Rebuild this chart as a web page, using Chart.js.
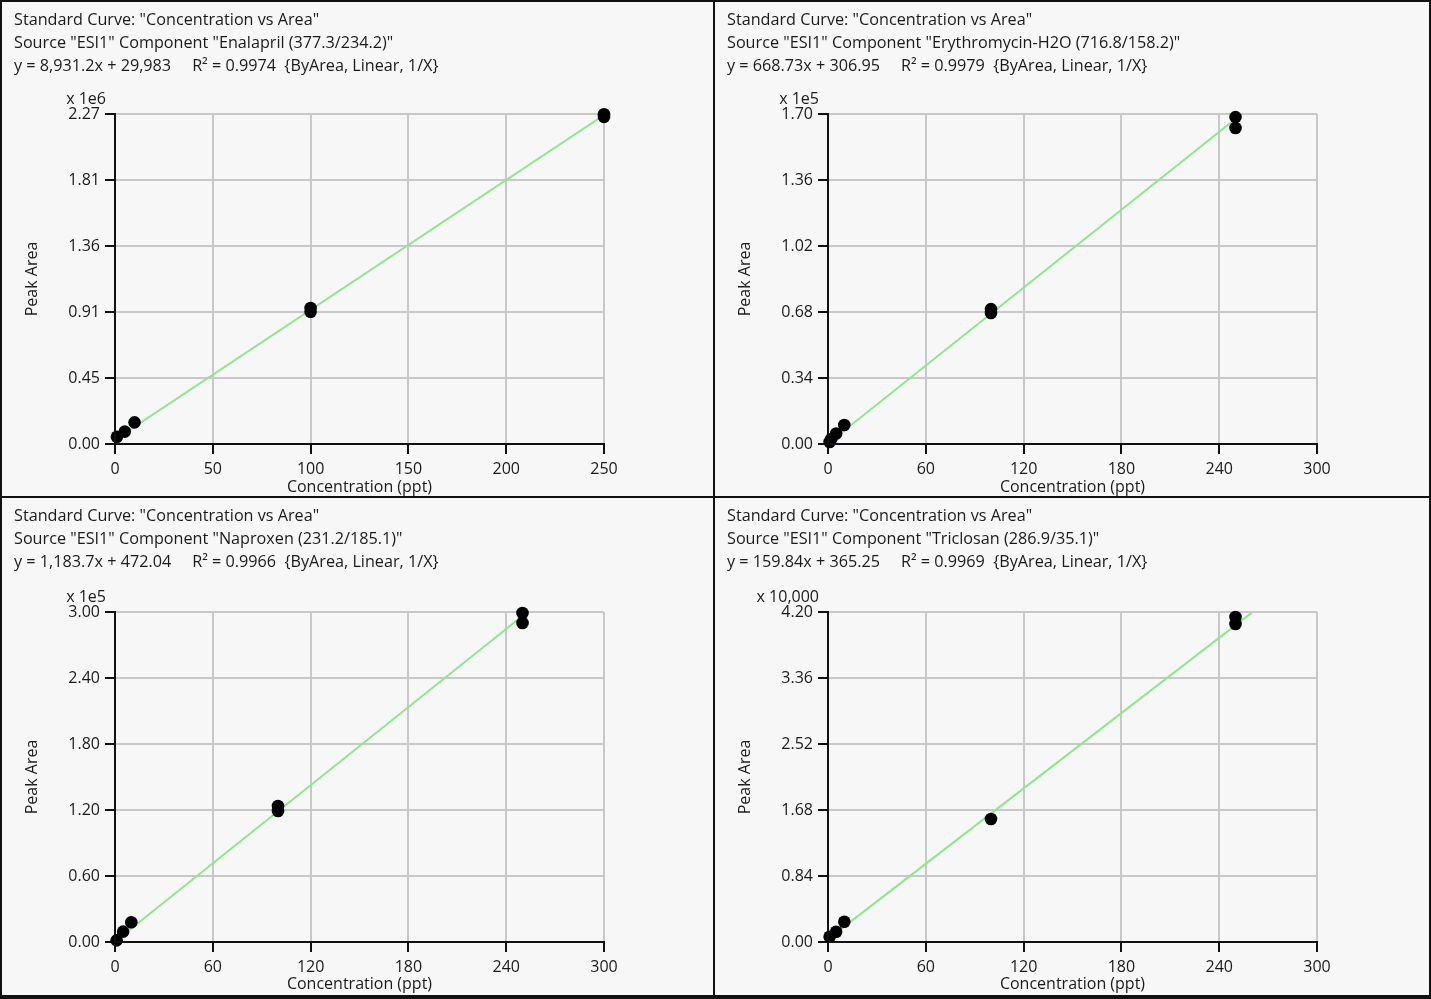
<!DOCTYPE html>
<html>
<head>
<meta charset="utf-8">
<script src="https://cdn.jsdelivr.net/npm/chart.js@4.4.1/dist/chart.umd.min.js"></script>
<style>
html, body { margin: 0; padding: 0; background: #fff; }
#frame { position: relative; width: 1431px; height: 999px; background: #111; overflow: hidden; }
.panel { position: absolute; background: #f7f7f7; }
.panel canvas { position: absolute; left: 0; top: 0; }
.hdr { position: absolute; left: 12px; top: 6px; font: 16.2px 'Open Sans', sans-serif; color: #1a1a1a;
       line-height: 23px; white-space: pre; }
</style>
</head>
<body>
<div id="frame">
  <div class="panel" id="p1" style="left:2px;top:2px;width:711px;height:494px"><canvas></canvas><div class="hdr"></div></div>
  <div class="panel" id="p2" style="left:715px;top:2px;width:714px;height:494px"><canvas></canvas><div class="hdr"></div></div>
  <div class="panel" id="p3" style="left:2px;top:498px;width:711px;height:497px"><canvas></canvas><div class="hdr"></div></div>
  <div class="panel" id="p4" style="left:715px;top:498px;width:714px;height:497px"><canvas></canvas><div class="hdr"></div></div>
</div>
<script>
// ── Data ─────────────────────────────────────────────────────────────────────
// Enalapril
const enaX     = [1, 5, 10, 100, 100, 250, 250];
const enaY     = [50000, 85000, 149000, 935000, 910000, 2268000, 2250000];
const enaFitX  = [0, 250];
const enaFitY  = [29983, 2262783];
const enaYTicks = ['0.00', '0.45', '0.91', '1.36', '1.81', '2.27'];

// Erythromycin-H2O
const eryX     = [1, 2, 5, 10, 100, 100, 250, 250];
const eryY     = [1000, 2600, 5400, 9800, 69500, 67500, 168400, 162800];
const eryFitX  = [0, 254];
const eryFitY  = [307, 170164];
const eryYTicks = ['0.00', '0.34', '0.68', '1.02', '1.36', '1.70'];

// Naproxen
const napX     = [1, 5, 10, 100, 100, 250, 250];
const napY     = [1500, 9400, 17900, 123600, 119100, 299100, 290000];
const napFitX  = [0, 253];
const napFitY  = [472, 299948];
const napYTicks = ['0.00', '0.60', '1.20', '1.80', '2.40', '3.00'];

// Triclosan
const triX     = [1, 5, 10, 100, 250, 250];
const triY     = [675, 1311, 2584, 15650, 41360, 40470];
const triFitX  = [0, 260];
const triFitY  = [365, 41923];
const triYTicks = ['0.00', '0.84', '1.68', '2.52', '3.36', '4.20'];

const headers = [
  ['Standard Curve: "Concentration vs Area"',
   'Source "ESI1" Component "Enalapril (377.3/234.2)"',
   'y = 8,931.2x + 29,983     R\u00b2 = 0.9974  {ByArea, Linear, 1/X}'],
  ['Standard Curve: "Concentration vs Area"',
   'Source "ESI1" Component "Erythromycin-H2O (716.8/158.2)"',
   'y = 668.73x + 306.95     R\u00b2 = 0.9979  {ByArea, Linear, 1/X}'],
  ['Standard Curve: "Concentration vs Area"',
   'Source "ESI1" Component "Naproxen (231.2/185.1)"',
   'y = 1,183.7x + 472.04     R\u00b2 = 0.9966  {ByArea, Linear, 1/X}'],
  ['Standard Curve: "Concentration vs Area"',
   'Source "ESI1" Component "Triclosan (286.9/35.1)"',
   'y = 159.84x + 365.25     R\u00b2 = 0.9969  {ByArea, Linear, 1/X}']
];

// ── Helpers ──────────────────────────────────────────────────────────────────
const FONT = "'Open Sans', sans-serif";
const TXT  = '#1a1a1a';
const FS   = 16;

function zip(xs, ys) { return xs.map((x, i) => ({ x, y: ys[i] })); }

// multiplier label ("x 1e6") above the y axis
const multPlugin = {
  id: 'mult',
  afterDraw(chart, args, opts) {
    const { ctx, chartArea } = chart;
    ctx.save();
    ctx.font = FS + 'px ' + FONT;
    ctx.fillStyle = TXT;
    ctx.textAlign = 'right';
    ctx.textBaseline = 'middle';
    ctx.fillText(opts.text, chartArea.left - 9, chartArea.top - 15);
    ctx.restore();
  }
};

function makePanel(c) {
  const panel  = document.getElementById(c.id);
  panel.querySelector('.hdr').textContent = c.header.join('\n');
  const canvas = panel.querySelector('canvas');
  canvas.width  = c.w;
  canvas.height = c.h;
  const nTicks = c.yTicks.length - 1;

  const gridOpts = { color: '#c8c8c8', lineWidth: 2, tickColor: '#111', tickWidth: 2, tickLength: 10 };
  const borderOpts = { display: true, color: '#111', width: 2, z: 1 };

  return new Chart(canvas, {
    type: 'scatter',
    data: {
      datasets: [
        { type: 'line', data: zip(c.fitX, c.fitY), borderColor: '#8fe68f', borderWidth: 2,
          pointRadius: 0, order: 1 },
        { data: zip(c.x, c.y), backgroundColor: '#000', borderColor: '#000', borderWidth: 0,
          pointRadius: 6.3, order: 0, clip: false }
      ]
    },
    options: {
      responsive: false,
      animation: false,
      devicePixelRatio: 1,
      layout: { padding: { top: c.plotT, right: c.w - c.plotR, left: 0, bottom: 0 } },
      plugins: { legend: { display: false }, tooltip: { enabled: false }, mult: { text: c.mult } },
      scales: {
        x: {
          type: 'linear', min: 0, max: c.xMax,
          ticks: { stepSize: c.xStep, color: TXT, font: { family: FONT, size: FS }, padding: 6, maxRotation: 0 },
          grid: gridOpts, border: borderOpts,
          title: { display: true, text: 'Concentration (ppt)', color: TXT,
                   font: { family: FONT, size: FS }, padding: { top: 0, bottom: c.xTitlePad } },
          afterFit: s => { s.height = c.h - c.plotB; }
        },
        y: {
          type: 'linear', min: 0, max: c.yMax,
          afterBuildTicks: s => {
            s.ticks = c.yTicks.map((t, i) => ({ value: c.yMax * i / nTicks }));
          },
          ticks: { color: TXT, font: { family: FONT, size: FS }, padding: 5,
                   callback: (v, i) => c.yTicks[i] },
          grid: gridOpts, border: borderOpts,
          title: { display: true, text: 'Peak Area', color: TXT,
                   font: { family: FONT, size: FS }, padding: { top: 21, bottom: 0 } },
          afterFit: s => { s.width = c.plotL; }
        }
      }
    },
    plugins: [multPlugin]
  });
}

// ── Panels ───────────────────────────────────────────────────────────────────
makePanel({ id: 'p1', w: 711, h: 494, plotL: 113, plotR: 602, plotT: 112, plotB: 442, xTitlePad: -1,
  x: enaX, y: enaY, fitX: enaFitX, fitY: enaFitY, xMax: 250, xStep: 50,
  yMax: 2270000, yTicks: enaYTicks, mult: 'x 1e6', header: headers[0] });

makePanel({ id: 'p2', w: 714, h: 494, plotL: 113, plotR: 602, plotT: 112, plotB: 442, xTitlePad: -1,
  x: eryX, y: eryY, fitX: eryFitX, fitY: eryFitY, xMax: 300, xStep: 60,
  yMax: 170000, yTicks: eryYTicks, mult: 'x 1e5', header: headers[1] });

makePanel({ id: 'p3', w: 711, h: 497, plotL: 113, plotR: 602, plotT: 114, plotB: 444, xTitlePad: 1,
  x: napX, y: napY, fitX: napFitX, fitY: napFitY, xMax: 300, xStep: 60,
  yMax: 300000, yTicks: napYTicks, mult: 'x 1e5', header: headers[2] });

makePanel({ id: 'p4', w: 714, h: 497, plotL: 113, plotR: 602, plotT: 114, plotB: 444, xTitlePad: 1,
  x: triX, y: triY, fitX: triFitX, fitY: triFitY, xMax: 300, xStep: 60,
  yMax: 42000, yTicks: triYTicks, mult: 'x 10,000', header: headers[3] });
</script>
</body>
</html>
